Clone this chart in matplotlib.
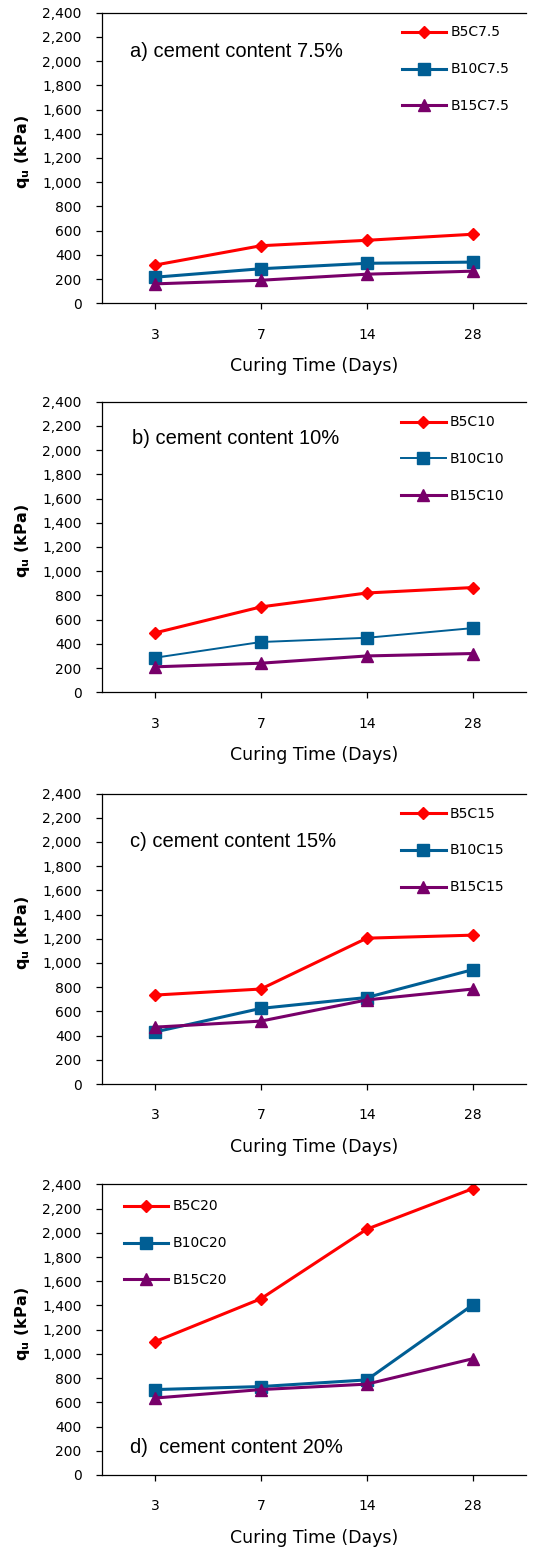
import matplotlib
matplotlib.use('Agg')
import matplotlib.pyplot as plt

plt.rcParams['font.family'] = ['DejaVu Sans']
plt.rcParams['mathtext.fontset'] = 'dejavusans'

days = ['3', '7', '14', '28']

# panel a) cement 7.5 %
a_b5 = [315, 475, 520, 570]
a_b10 = [215, 285, 330, 340]
a_b15 = [160, 190, 240, 265]

# panel b) cement 10 %
b_b5 = [490, 705, 820, 865]
b_b10 = [285, 415, 450, 530]
b_b15 = [210, 240, 300, 320]

# panel c) cement 15 %
c_b5 = [735, 785, 1205, 1230]
c_b10 = [430, 625, 715, 945]
c_b15 = [470, 520, 695, 785]

# panel d) cement 20 %
d_b5 = [1100, 1455, 2030, 2365]
d_b10 = [705, 730, 785, 1405]
d_b15 = [635, 705, 750, 960]

panels = [
    ('a) cement content 7.5%', ['B5C7.5', 'B10C7.5', 'B15C7.5'], [a_b5, a_b10, a_b15]),
    ('b) cement content 10%', ['B5C10', 'B10C10', 'B15C10'], [b_b5, b_b10, b_b15]),
    ('c) cement content 15%', ['B5C15', 'B10C15', 'B15C15'], [c_b5, c_b10, c_b15]),
    ('d)  cement content 20%', ['B5C20', 'B10C20', 'B15C20'], [d_b5, d_b10, d_b15]),
]

colors = ['#ff0000', '#005e94', '#78006a']
markers = ['D', 's', '^']
msizes = [6.3, 8, 8.5]
widths = [[2.2, 2.2, 2.2], [2.2, 1.4, 2.2], [2.2, 2.2, 2.2], [2.2, 2.2, 2.2]]

bottoms = [0.8041, 0.5528, 0.2997, 0.0472]
text_pos = [(0.066, 0.865), (0.071, 0.872), (0.066, 0.836), (0.066, 0.096)]
leg_pos = [(0.708, 0.956), (0.706, 0.953), (0.706, 0.955), (0.052, 0.948)]

fig = plt.figure(figsize=(5.36, 15.48), dpi=100)

for i, (title, names, series) in enumerate(panels):
    ax = fig.add_axes([0.190, bottoms[i], 0.791, 0.1877])
    x = range(len(days))
    for j in range(3):
        ax.plot(x, series[j], color=colors[j], marker=markers[j], markersize=msizes[j],
                linewidth=widths[i][j], label=names[j])
    ax.set_xlim(-0.5, 3.5)
    ax.set_ylim(0, 2400)
    ax.set_yticks(range(0, 2401, 200))
    ax.set_yticklabels(['{:,}'.format(v) for v in range(0, 2401, 200)])
    ax.set_xticks(list(x))
    ax.set_xticklabels(days)
    ax.spines['right'].set_visible(False)
    for s in ['left', 'bottom', 'top']:
        ax.spines[s].set_linewidth(0.9)
    ax.tick_params(axis='y', direction='out', length=4.5, width=0.9, pad=10, labelsize=10)
    ax.tick_params(axis='x', direction='out', length=4.5, width=0.9, pad=13, labelsize=10)
    ax.set_xlabel('Curing Time (Days)', fontsize=12.5, labelpad=11)
    ax.set_ylabel(r'q$_{\mathbf{u}}$ (kPa)', fontsize=11.5, fontweight='bold')
    ax.yaxis.set_label_coords(-0.165, 0.52)
    ax.text(text_pos[i][0], text_pos[i][1], title, transform=ax.transAxes,
            fontsize=14.5, family='Liberation Sans', va='center', ha='left')
    ax.legend(loc='upper left', bbox_to_anchor=leg_pos[i], frameon=False, fontsize=10,
              handlelength=3.2, handletextpad=0.3, labelspacing=1.65, borderpad=0,
              borderaxespad=0, numpoints=1)

fig.savefig('out.png', dpi=100)
